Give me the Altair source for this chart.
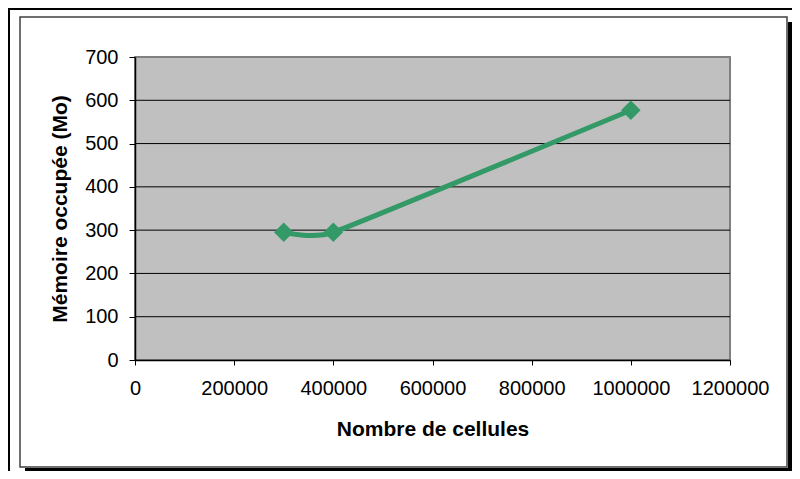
import altair as alt
import pandas as pd

# Data
cells = [300000, 400000, 1000000]
memory = [295, 295, 577]
y_ticks = [0, 100, 200, 300, 400, 500, 600, 700]
x_ticks = [0, 200000, 400000, 600000, 800000, 1000000, 1200000]
grid_values = [100, 200, 300, 400, 500, 600]

df = pd.DataFrame({"cells": cells, "memory": memory})
grid_df = pd.DataFrame({"g": grid_values})

W, H = 595, 303
GREEN = "#339966"
FONT = "Liberation Sans"

xs = alt.Scale(domain=[0, 1200000], nice=False)
ys = alt.Scale(domain=[0, 700], nice=False)

one = alt.Data(values=[{}])

def box(x, x2, y, y2, fill, stroke=None, sw=0):
    kw = dict(fill=fill)
    if stroke:
        kw.update(stroke=stroke, strokeWidth=sw)
    return alt.Chart(one).mark_rect(**kw).encode(
        x=alt.value(x), x2=alt.value(x2), y=alt.value(y), y2=alt.value(y2)
    )

# decorative frame (pixel coords relative to plot origin)
frame = box(-115, 652, -40, 410, "white", "#404040", 1.5)
shadow_r = box(653, 657, -35, 414, "black")
shadow_b = box(-110, 657, 411, 414, "black")
outer_top = box(-127, 657, -49, -47, "black")
outer_left = box(-127, -125, -49, 414, "black")

plot_bg = alt.Chart(one).mark_rect(fill="#C0C0C0", stroke="#808080", strokeWidth=2).encode(
    x=alt.value(0), x2=alt.value("width"), y=alt.value(0), y2=alt.value("height")
)

xaxis = alt.Axis(
    values=x_ticks, format="d", grid=False, zindex=1,
    domainColor="black", domainWidth=1.5, tickColor="black", tickSize=5,
    labelFont=FONT, labelFontSize=20, labelColor="black", labelPadding=13,
    labelFlush=False, labelOverlap=False,
    title="Nombre de cellules", titleFont=FONT, titleFontSize=21, titleFontWeight="bold",
    titleColor="black", titleX=W / 2, titleY=75, titleAlign="center", titleBaseline="alphabetic",
)
yaxis = alt.Axis(
    values=y_ticks, format="d", grid=False, zindex=1,
    domainColor="black", domainWidth=1.5, tickColor="black", tickSize=6,
    labelFont=FONT, labelFontSize=20, labelColor="black", labelPadding=11,
    labelFlush=False, labelOverlap=False,
    title="Mémoire occupée (Mo)", titleFont=FONT, titleFontSize=21, titleFontWeight="bold",
    titleColor="black", titleX=-69, titleY=H / 2, titleAngle=-90, titleAlign="center",
    titleBaseline="alphabetic",
)

grid = alt.Chart(grid_df).mark_rule(color="black", strokeWidth=1).encode(
    y=alt.Y("g:Q", scale=ys, axis=yaxis)
)

line = alt.Chart(df).mark_line(color=GREEN, strokeWidth=5, interpolate="cardinal", tension=0.65).encode(
    x=alt.X("cells:Q", scale=xs, axis=xaxis),
    y=alt.Y("memory:Q", scale=ys, axis=yaxis),
)
points = alt.Chart(df).mark_point(shape="diamond", filled=True, color=GREEN, size=380, opacity=1).encode(
    x=alt.X("cells:Q", scale=xs, axis=xaxis),
    y=alt.Y("memory:Q", scale=ys, axis=yaxis),
)

chart = alt.layer(
    frame, shadow_r, shadow_b, outer_top, outer_left, plot_bg, grid, line, points
).properties(
    width=W, height=H,
    autosize=alt.AutoSizeParams(type="none"),
    padding={"left": 127, "top": 49, "right": 62, "bottom": 111},
).configure_view(stroke=None, fill=None)

chart.save("out.html", embed_options={"renderer": "svg", "actions": False})
